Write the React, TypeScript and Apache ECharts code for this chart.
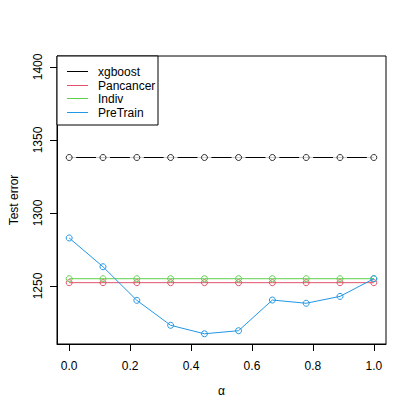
import React, { useEffect, useRef } from "react";
import * as echarts from "echarts";

const alpha = [0, 0.111, 0.222, 0.333, 0.444, 0.556, 0.667, 0.778, 0.889, 1.0];
const xgboost = [1338, 1338, 1338, 1338, 1338, 1338, 1338, 1338, 1338, 1338];
const pancancer = [1252.3, 1252.3, 1252.3, 1252.3, 1252.3, 1252.3, 1252.3, 1252.3, 1252.3, 1252.3];
const indiv = [1255, 1255, 1255, 1255, 1255, 1255, 1255, 1255, 1255, 1255];
const pretrain = [1282.9, 1263.2, 1240.2, 1223.1, 1217.3, 1219.4, 1240.4, 1238.2, 1242.9, 1255.0];
const xTicks = [0, 0.2, 0.4, 0.6, 0.8, 1.0];
const yTicks = [1250, 1300, 1350, 1400];
const legendNames = ["xgboost", "Pancancer", "Indiv", "PreTrain"];
const colors = ["#000000", "#DF536B", "#61D04F", "#2297E6"];
const xTitle = "α";
const yTitle = "Test error";

const FONT = "Liberation Sans, Arial, Helvetica, sans-serif";

export default function App() {
  const ref = useRef<HTMLDivElement>(null);
  useEffect(() => {
    if (!ref.current) return;
    const chart = echarts.init(ref.current, undefined, { renderer: "svg" });
    const pair = (ys: number[]) => alpha.map((a, i) => [a, ys[i]]);
    const oSeries = (ys: number[], color: string, z: number) => ({
      type: "line",
      data: pair(ys),
      symbol: "circle",
      symbolSize: 6,
      z,
      lineStyle: { color, width: 1 },
      itemStyle: { color: "rgba(0,0,0,0)", borderColor: color, borderWidth: 1 },
    });
    const legendTop = 71;
    const legendStep = 13.7;
    const graphic: any[] = [
      {
        type: "rect",
        z: 100,
        shape: { x: 57, y: 56, width: 101, height: 69 },
        style: { fill: "#fff", stroke: "#000", lineWidth: 1 },
      },
      {
        type: "text",
        z: 100,
        x: 14,
        y: 200,
        rotation: Math.PI / 2,
        style: { text: yTitle, fontSize: 12, fontFamily: FONT, fill: "#000", align: "center", verticalAlign: "middle" },
      },
      {
        type: "text",
        z: 100,
        x: 221.5,
        y: 391,
        style: { text: xTitle, fontSize: 12, fontFamily: FONT, fill: "#000", align: "center", verticalAlign: "middle" },
      },
    ];
    legendNames.forEach((n, i) => {
      const y = Math.round(legendTop + i * legendStep) + 0.5;
      graphic.push({
        type: "line",
        z: 101,
        shape: { x1: 67, y1: y, x2: 88, y2: y },
        style: { stroke: colors[i], lineWidth: 1 },
      });
      graphic.push({
        type: "text",
        z: 101,
        x: 98,
        y,
        style: { text: n, fontSize: 12, fontFamily: FONT, fill: "#000", verticalAlign: "middle", align: "left" },
      });
    });
    chart.setOption({
      animation: false,
      backgroundColor: "#fff",
      grid: {
        left: 57,
        top: 56,
        width: 329,
        height: 288,
        show: true,
        borderColor: "#000",
        borderWidth: 1,
        backgroundColor: "transparent",
        containLabel: false,
        outerBoundsMode: "none",
      },
      xAxis: {
        type: "value",
        min: -0.04,
        max: 1.04,
        axisLine: { show: true, onZero: false, lineStyle: { color: "#000", width: 1 } },
        splitLine: { show: false },
        axisTick: { show: true, inside: false, length: 7, customValues: xTicks, lineStyle: { color: "#000" } },
        axisLabel: {
          customValues: xTicks,
          margin: 16,
          fontSize: 12,
          fontFamily: FONT,
          color: "#000",
          formatter: (v: number) => v.toFixed(1),
        },
      },
      yAxis: {
        type: "value",
        min: 1210.3,
        max: 1407.5,
        axisLine: { show: true, onZero: false, lineStyle: { color: "#000", width: 1 } },
        splitLine: { show: false },
        axisTick: { show: true, inside: false, length: 7, customValues: yTicks, lineStyle: { color: "#000" } },
        axisLabel: {
          customValues: yTicks,
          rotate: 90,
          margin: 13,
          fontSize: 12,
          fontFamily: FONT,
          color: "#000",
          formatter: (v: number) => String(v),
        },
      },
      graphic,
      series: [
        {
          type: "line",
          data: pair(xgboost),
          showSymbol: false,
          symbol: "none",
          z: 2,
          lineStyle: { color: "#000", width: 1 },
        },
        {
          type: "scatter",
          data: pair(xgboost),
          symbol: "circle",
          symbolSize: 14,
          z: 3,
          itemStyle: { color: "#fff", borderWidth: 0 },
        },
        {
          type: "scatter",
          data: pair(xgboost),
          symbol: "circle",
          symbolSize: 6,
          z: 4,
          itemStyle: { color: "rgba(0,0,0,0)", borderColor: "#000", borderWidth: 1 },
        },
        oSeries(pancancer, colors[1], 5),
        oSeries(indiv, colors[2], 6),
        oSeries(pretrain, colors[3], 7),
      ],
    });
    return () => chart.dispose();
  }, []);
  return <div ref={ref} style={{ width: 415, height: 415, margin: -8 }} />;
}
